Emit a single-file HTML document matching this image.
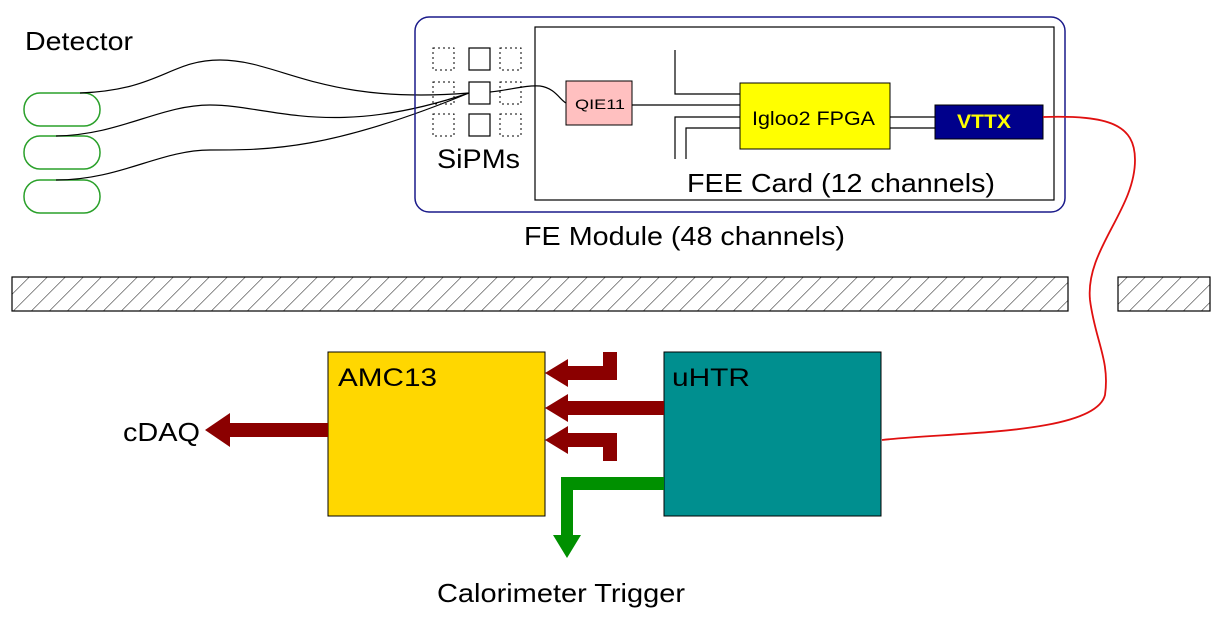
<!DOCTYPE html>
<html><head><meta charset="utf-8"><style>
html,body{margin:0;padding:0;background:#fff;}
svg{display:block;font-family:"Liberation Sans",sans-serif;}
</style></head><body>
<svg width="1220" height="617" viewBox="0 0 1220 617" xmlns="http://www.w3.org/2000/svg">
<defs>
<pattern id="h" patternUnits="userSpaceOnUse" width="18" height="34" patternTransform="skewX(-45)">
<rect width="18" height="34" fill="#fff"/>
<line x1="0" y1="0" x2="0" y2="34" stroke="#000" stroke-width="1.3"/>
</pattern>
</defs>
<text x="25" y="50" font-size="26" textLength="108" lengthAdjust="spacingAndGlyphs">Detector</text>
<g fill="none" stroke="#2aa02a" stroke-width="1.5">
<rect x="24" y="93" width="76" height="33" rx="16"/>
<rect x="24" y="136" width="76" height="33" rx="16"/>
<rect x="24" y="180" width="76" height="33" rx="16"/>
</g>
<g fill="none" stroke="#000" stroke-width="1.2">
<path d="M80 93 C160 90 170 60 220 60 C280 60 320 105 469 93"/>
<path d="M56 136 C120 135 160 105 210 105 C270 105 330 140 469 93"/>
<path d="M56 180 C120 180 160 150 210 150 C270 150 330 150 469 93"/>
<path d="M490 92 C510 90 525 85 540 86 C555 88 560 100 566 103"/>
</g>
<rect x="415" y="17" width="650" height="195" rx="14" fill="none" stroke="#1a1a8a" stroke-width="1.5"/>
<rect x="535" y="27" width="519" height="173" fill="none" stroke="#000" stroke-width="1.2"/>
<g fill="none" stroke="#000" stroke-width="1" stroke-dasharray="2,3">
<rect x="433" y="48" width="21" height="22"/><rect x="500" y="48" width="21" height="22"/>
<rect x="433" y="82" width="21" height="22"/><rect x="500" y="82" width="21" height="22"/>
<rect x="433" y="114" width="21" height="22"/><rect x="500" y="114" width="21" height="22"/>
</g>
<g fill="#fff" stroke="#000" stroke-width="1.2">
<rect x="469" y="48" width="21" height="22"/>
<rect x="469" y="82" width="21" height="22"/>
<rect x="469" y="114" width="21" height="22"/>
</g>
<text x="437" y="168" font-size="27" textLength="83" lengthAdjust="spacingAndGlyphs">SiPMs</text>
<rect x="566" y="81" width="66" height="44" fill="#ffc0c0" stroke="#000" stroke-width="1"/>
<text x="575" y="109" font-size="14" textLength="50" lengthAdjust="spacingAndGlyphs">QIE11</text>
<g fill="none" stroke="#000" stroke-width="1.2">
<path d="M675 50 V94 H740"/>
<path d="M632 105 H740"/>
<path d="M675 159 V117 H740"/>
<path d="M686 159 V128 H740"/>
<path d="M890 117 H935"/><path d="M890 128 H935"/>
</g>
<rect x="740" y="83" width="150" height="66" fill="#ffff00" stroke="#000" stroke-width="1"/>
<text x="752" y="125" font-size="19" textLength="123" lengthAdjust="spacingAndGlyphs">Igloo2 FPGA</text>
<rect x="935" y="105" width="108" height="34" fill="#00008b" stroke="#000" stroke-width="1"/>
<text x="957" y="128" font-size="19" font-weight="bold" fill="#ffff00" textLength="54" lengthAdjust="spacingAndGlyphs">VTTX</text>
<path d="M1043 117 C1110 115 1135 125 1135 160 C1135 210 1085 250 1090 300 C1095 340 1110 360 1105 395 C1095 435 950 432 882 440" fill="none" stroke="#e01010" stroke-width="1.8"/>
<text x="687" y="192" font-size="26" textLength="308" lengthAdjust="spacingAndGlyphs">FEE Card (12 channels)</text>
<text x="524" y="245" font-size="26" textLength="321" lengthAdjust="spacingAndGlyphs">FE Module (48 channels)</text>
<rect x="12" y="277" width="1056" height="34" fill="url(#h)" stroke="#000" stroke-width="1.2"/>
<rect x="1118" y="277" width="92" height="34" fill="url(#h)" stroke="#000" stroke-width="1.2"/>
<rect x="328" y="352" width="217" height="164" fill="#ffd700" stroke="#000" stroke-width="1"/>
<text x="338" y="386" font-size="25" textLength="99" lengthAdjust="spacingAndGlyphs">AMC13</text>
<rect x="664" y="352" width="217" height="164" fill="#008f8f" stroke="#000" stroke-width="1"/>
<text x="672" y="386" font-size="25" textLength="78" lengthAdjust="spacingAndGlyphs">uHTR</text>
<g fill="#8b0000">
<polygon points="328,423 230,423 230,413 205,430 230,447 230,437 328,437"/>
<polygon points="545,373 568,359 568,366 603,366 603,352 617,352 617,380 568,380 568,387"/>
<polygon points="545,408 568,394 568,401 664,401 664,415 568,415 568,422"/>
<polygon points="545,440 568,426 568,433 617,433 617,461 603,461 603,447 568,447 568,454"/>
</g>
<polygon points="664,477 664,490 573,490 573,535 581,535 567,558 553,535 561,535 561,477" fill="#009000"/>
<text x="123" y="441" font-size="26" textLength="77" lengthAdjust="spacingAndGlyphs">cDAQ</text>
<text x="437" y="602" font-size="26" textLength="248" lengthAdjust="spacingAndGlyphs">Calorimeter Trigger</text>
</svg>
</body></html>
